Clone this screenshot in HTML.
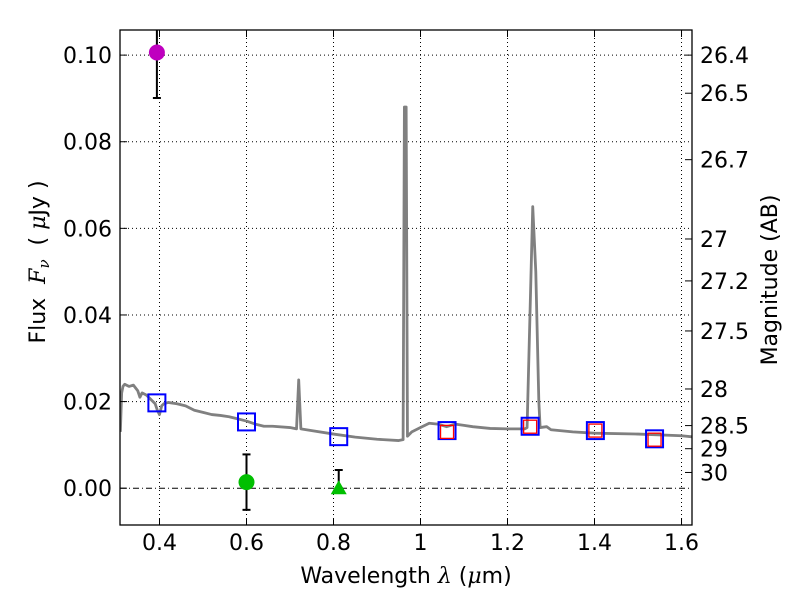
<!DOCTYPE html>
<html><head><meta charset="utf-8"><style>
body{margin:0;background:#fff}
svg{font-family:"DejaVu Sans","Liberation Sans",sans-serif}
</style></head><body>
<div style="position:relative;width:800px;height:600px">
<svg id="c" width="800" height="600" viewBox="0 0 800 600" style="position:absolute;left:0;top:0">
<defs><clipPath id="pc"><rect x="120" y="30" width="572" height="495"/></clipPath></defs>
<rect width="800" height="600" fill="#fff"/>
<g id="grid"></g><g id="spec" clip-path="url(#pc)"></g><g id="marks" clip-path="url(#pc)"></g><g id="axes"></g>
<text x="406" y="583" text-anchor="middle" font-size="22">Wavelength  <tspan font-style="italic" font-family="DejaVu Serif, serif">λ</tspan> (<tspan font-style="italic" font-family="DejaVu Serif, serif">μ</tspan>m)</text>
<text transform="translate(45,262) rotate(-90)" text-anchor="middle" font-size="22" xml:space="preserve">Flux  <tspan font-style="italic" font-family="DejaVu Serif, serif">F</tspan><tspan font-style="italic" font-family="DejaVu Serif, serif" font-size="15" dy="4">ν</tspan><tspan dy="-4">  ( </tspan><tspan font-style="italic" font-family="DejaVu Serif, serif">μ</tspan>Jy )</text>
<text transform="translate(777,280) rotate(-90)" text-anchor="middle" font-size="22">Magnitude (AB)</text>
</svg></div>
<script>
const xTicks=[0.4,0.6,0.8,1.0,1.2,1.4,1.6];
const xTickLabels=["0.4","0.6","0.8","1","1.2","1.4","1.6"];
const yTicks=[0,0.02,0.04,0.06,0.08,0.10];
const yTickLabels=["0.00","0.02","0.04","0.06","0.08","0.10"];
const magTicks=[26.4,26.5,26.7,27,27.2,27.5,28,28.5,29,30];
const specLam=[0.31,0.313,0.316,0.32,0.33,0.34,0.35,0.355,0.36,0.37,0.38,0.39,0.395,0.4,0.405,0.41,0.42,0.44,0.46,0.48,0.5,0.52,0.54,0.56,0.58,0.6,0.62,0.64,0.66,0.7,0.715,0.72,0.725,0.75,0.8,0.85,0.9,0.95,0.96,0.963,0.967,0.97,0.98,1.0,1.02,1.04,1.06,1.08,1.1,1.12,1.16,1.2,1.24,1.245,1.258,1.265,1.272,1.275,1.29,1.3,1.35,1.4,1.5,1.6,1.63];
const specFlux=[0.013,0.022,0.0235,0.024,0.0235,0.0238,0.0225,0.021,0.022,0.0215,0.0205,0.0195,0.018,0.017,0.019,0.0195,0.0198,0.0195,0.019,0.018,0.0175,0.017,0.0168,0.0165,0.016,0.0155,0.0148,0.0143,0.0143,0.014,0.0137,0.025,0.0137,0.0133,0.0125,0.0118,0.0113,0.011,0.0112,0.088,0.088,0.012,0.013,0.014,0.015,0.0148,0.0142,0.0148,0.0145,0.0142,0.0138,0.0137,0.0137,0.014,0.065,0.05,0.02,0.014,0.0142,0.0135,0.013,0.0127,0.0125,0.0121,0.0118];
const blueLam=[0.394,0.6,0.812,1.061,1.252,1.402,1.538];
const blueFlux=[0.0197,0.0153,0.0119,0.0133,0.0143,0.0133,0.0114];
const redLam=[1.061,1.252,1.402,1.538];
const redFlux=[0.0130,0.0142,0.0133,0.0112];
const purpleLam=[0.394],purpleFlux=[0.1006],purpleLo=[0.0901],purpleHi=[0.111];
const greenLam=[0.6],greenFlux=[0.0014],greenLo=[-0.005],greenHi=[0.0078];
const triLam=[0.812],triFlux=[0.0],triHi=[0.0042];

const L=120,R=692,T=30,B=525;
const xmin=0.3092,xmax=1.6241,ymin=-0.0085,ymax=0.1058;
const X=v=>L+(v-xmin)/(xmax-xmin)*(R-L);
const Y=v=>B-(v-ymin)/(ymax-ymin)*(B-T);
const NS="http://www.w3.org/2000/svg";
function mk(p,t,a){const e=document.createElementNS(NS,t);for(const k in a)e.setAttribute(k,a[k]);document.getElementById(p).appendChild(e);return e;}
xTicks.forEach(v=>{const e=mk('grid','line',{x1:X(v),x2:X(v),y1:T,y2:B,stroke:'#000','stroke-width':1,'stroke-dasharray':'1,3'});

});
yTicks.forEach(v=>{const e=mk('grid','line',{x1:L,x2:R,y1:Y(v),y2:Y(v),stroke:'#000','stroke-width':1,'stroke-dasharray':v===0?'6,3,1,3':'1,3'});

});
const sp=mk('spec','polyline',{points:specLam.map((l,i)=>X(l)+','+Y(specFlux[i])).join(' '),fill:'none',stroke:'#808080','stroke-width':2.8,'stroke-linejoin':'round'});


blueLam.forEach((l,i)=>{const e=mk('marks','rect',{x:X(l)-8.5,y:Y(blueFlux[i])-8.5,width:17,height:17,fill:'none',stroke:'#0000ff','stroke-width':2});

});
redLam.forEach((l,i)=>{const e=mk('marks','rect',{x:X(l)-6.5,y:Y(redFlux[i])-6.5,width:13,height:13,fill:'none',stroke:'#ff0000','stroke-width':1.3});

});
function errbar(l,lo,hi,name){const x=X(l);
const e=mk('marks','line',{x1:x,x2:x,y1:Y(lo),y2:Y(hi),stroke:'#000','stroke-width':2});


[lo,hi].forEach(v=>{const c=mk('marks','line',{x1:x-4,x2:x+4,y1:Y(v),y2:Y(v),stroke:'#000','stroke-width':2});

});}
purpleLam.forEach((l,i)=>{errbar(l,purpleLo[i],purpleHi[i],'purple-errorbar');
const e=mk('marks','circle',{cx:X(l),cy:Y(purpleFlux[i]),r:8,fill:'#bf00bf'});

});
greenLam.forEach((l,i)=>{errbar(l,greenLo[i],greenHi[i],'green-errorbar');
const e=mk('marks','circle',{cx:X(l),cy:Y(greenFlux[i]),r:8,fill:'#00bf00'});

});
triLam.forEach((l,i)=>{errbar(l,triFlux[i],triHi[i],'triangle-errorbar');
const x=X(l),y=Y(triFlux[i]);
const e=mk('marks','polygon',{points:`${x},${y-8} ${x-8},${y+6} ${x+8},${y+6}`,fill:'#00bf00'});

});
const fr=mk('axes','rect',{x:L,y:T,width:R-L,height:B-T,fill:'none',stroke:'#000','stroke-width':1.3});


xTicks.forEach((v,i)=>{const x=X(v);
mk('axes','line',{x1:x,x2:x,y1:B,y2:B-7,stroke:'#000'});
mk('axes','line',{x1:x,x2:x,y1:T,y2:T+7,stroke:'#000'});
const t=mk('axes','text',{x:x,y:B+25,'text-anchor':'middle','font-size':22});t.textContent=xTickLabels[i];

});
yTicks.forEach((v,i)=>{const y=Y(v);
mk('axes','line',{x1:L,x2:L+7,y1:y,y2:y,stroke:'#000'});
const t=mk('axes','text',{x:L-8,y:y+8,'text-anchor':'end','font-size':22});t.textContent=yTickLabels[i];

});
magTicks.forEach(m=>{const y=Y(Math.pow(10,(23.9-m)/2.5));
mk('axes','line',{x1:R,x2:R-7,y1:y,y2:y,stroke:'#000'});
const t=mk('axes','text',{x:R+8,y:y+8,'font-size':22});t.textContent=String(m);

});
</script>
</body></html>
